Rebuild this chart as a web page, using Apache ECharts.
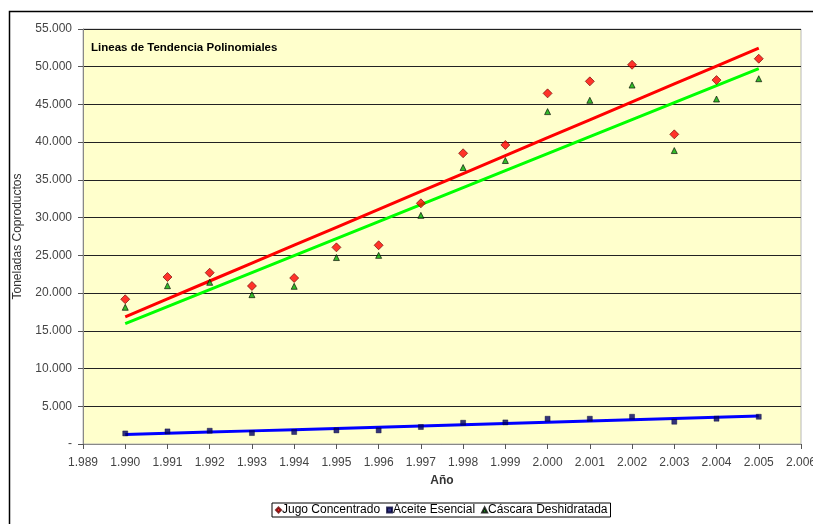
<!DOCTYPE html>
<html>
<head>
<meta charset="utf-8">
<script src="https://cdn.jsdelivr.net/npm/echarts@6/dist/echarts.min.js"></script>
<style>
html,body{margin:0;padding:0;background:#fff;}
#chart{width:813px;height:524px;}
</style>
</head>
<body>
<div id="chart"></div>
<script>
// ---- data ----
const years = [1990,1991,1992,1993,1994,1995,1996,1997,1998,1999,2000,2001,2002,2003,2004,2005];
const jugoConcentrado = [19180,22130,22700,20940,22000,26060,26340,31900,38530,39630,46470,48060,50260,41040,48230,51060];
const aceiteEsencial = [1400,1670,1760,1450,1590,1800,1800,2250,2820,2860,3350,3350,3610,2950,3350,3610];
const cascaraDeshidratada = [18120,20980,21430,19790,20900,24710,25000,30300,36640,37570,44050,45550,47570,38890,45720,48410];
const seriesNames = ['Jugo Concentrado','Aceite Esencial','Cáscara Deshidratada'];
const titleText = 'Lineas de Tendencia Polinomiales';
const xAxisName = 'Año';
const yAxisName = 'Toneladas Coproductos';
const xMin = 1989, xMax = 2006, yMin = 0, yMax = 55000, yStep = 5000;

// ---- helpers ----
function pairs(xs, ys){ return xs.map((x,i)=>[x, ys[i]]); }
function trend(xs, ys){
  const n = xs.length;
  const mx = xs.reduce((a,b)=>a+b,0)/n, my = ys.reduce((a,b)=>a+b,0)/n;
  let sxy=0, sxx=0;
  for(let i=0;i<n;i++){ sxy+=(xs[i]-mx)*(ys[i]-my); sxx+=(xs[i]-mx)*(xs[i]-mx); }
  const b = sxy/sxx, a = my - b*mx;
  return xs.map(x=>[x, a+b*x]);
}
function fmtThousands(v){
  if (v === 0) return '-';
  return String(Math.round(v)).replace(/\B(?=(\d{3})+(?!\d))/g, '.');
}

const font = 'Liberation Sans, Arial, sans-serif';
const chart = echarts.init(document.getElementById('chart'), null, {renderer:'canvas'});
chart.setOption({
  animation: false,
  backgroundColor: '#ffffff',
  textStyle: {fontFamily: font},
  graphic: [
    {type:'rect', left:7, top:9, shape:{width:900, height:700}, style:{fill:'none', stroke:'#000', lineWidth:1.5}, z:-10},
    {type:'text', left:91, top:42, style:{text:titleText, font:'bold 11.5px ' + font, fill:'#000'}}
  ],
  grid: {left:83, right:12, top:29, bottom:80, show:true, backgroundColor:'#FFFFCC', borderColor:'#b8b8b8', borderWidth:1, outerBoundsMode:'none', containLabel:false},
  legend: {
    bottom: 7, left: 272,
    data: seriesNames,
    itemWidth: 5, itemHeight: 5, itemGap: 6,
    padding: [1,3,1,3],
    borderColor: '#000', borderWidth: 1,
    textStyle: {fontSize: 12, color:'#000', fontFamily: font, padding:[0,0,0,-4]}
  },
  xAxis: {
    type:'value', min:xMin, max:xMax, interval:1,
    name: xAxisName, nameLocation:'middle', nameGap:31,
    nameTextStyle:{fontWeight:'bold', fontSize:12, color:'#333'},
    axisLine:{show:true, lineStyle:{color:'#888', width:1}},
    axisTick:{show:true, length:5, lineStyle:{color:'#555'}},
    axisLabel:{fontSize:12, color:'#444', margin:13, formatter:v=>fmtThousands(v), showMinLabel:true, showMaxLabel:true},
    splitLine:{show:false}
  },
  yAxis: {
    type:'value', min:yMin, max:yMax, interval:yStep,
    name: yAxisName, nameLocation:'middle', nameGap:59, nameRotate:90,
    nameTextStyle:{fontSize:12, color:'#333'},
    axisLine:{show:true, lineStyle:{color:'#888', width:1}},
    axisTick:{show:true, length:5, lineStyle:{color:'#555'}},
    axisLabel:{fontSize:12, color:'#444', margin:11, formatter:v=>fmtThousands(v)},
    splitLine:{show:true, lineStyle:{color:'#222', width:1}}
  },
  series: [
    {name:seriesNames[0], type:'scatter', data:pairs(years,jugoConcentrado), symbol:'diamond', symbolSize:9,
      itemStyle:{color:'#ff0000', borderColor:'#600', borderWidth:0.8}, z:3},
    {name:seriesNames[1], type:'scatter', data:pairs(years,aceiteEsencial), symbol:'rect', symbolSize:5,
      itemStyle:{color:'#000066', borderColor:'#000033', borderWidth:0.5}, z:3},
    {name:seriesNames[2], type:'scatter', data:pairs(years,cascaraDeshidratada), symbol:'triangle', symbolSize:6,
      itemStyle:{color:'#00aa00', borderColor:'#000', borderWidth:0.8}, z:3},
    {name:'t1', type:'line', data:trend(years,jugoConcentrado), symbol:'none', lineStyle:{color:'#ff0000', width:3}, z:2, silent:true},
    {name:'t2', type:'line', data:trend(years,aceiteEsencial), symbol:'none', lineStyle:{color:'#0000ff', width:3}, z:2, silent:true},
    {name:'t3', type:'line', data:trend(years,cascaraDeshidratada), symbol:'none', lineStyle:{color:'#00ff00', width:3}, z:2, silent:true}
  ]
});
</script>
</body>
</html>
